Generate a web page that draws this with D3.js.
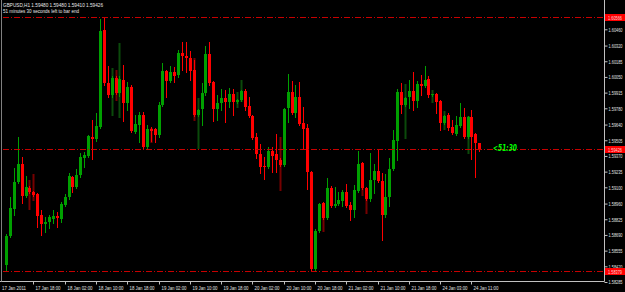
<!DOCTYPE html>
<html>
<head>
<meta charset="utf-8">
<script src="https://cdn.jsdelivr.net/npm/d3@7"></script>
<style>
  body { margin: 0; background: #000; }
  svg { display: block; }
</style>
</head>
<body>
<div id="chart"></div>
<script>
// GBPUSD H1 bars (oldest first)
const open = [
  1.58430, 1.58680, 1.58913, 1.59145, 1.59300, 1.59024, 1.59093, 1.59059, 1.59042, 1.58861,
  1.58783, 1.58801, 1.58826, 1.58852, 1.58826, 1.58947, 1.59016, 1.59188, 1.59102, 1.59205,
  1.59352, 1.59369, 1.59532, 1.59515, 1.59619, 1.60454, 1.59997, 1.59894, 1.60040, 1.59911,
  1.60023, 1.59825, 1.59963, 1.59575, 1.59636, 1.59722, 1.59446, 1.59601, 1.59601, 1.59550,
  1.59808, 1.60101, 1.60015, 1.60092, 1.60066, 1.60256, 1.60230, 1.60213, 1.60109, 1.59722,
  1.59774, 1.59911, 1.60247, 1.60006, 1.59774, 1.59825, 1.59868, 1.59834, 1.59903, 1.59834,
  1.59851, 1.59928, 1.59799, 1.59713, 1.59532, 1.59386, 1.59283, 1.59274, 1.59412, 1.59386,
  1.59334, 1.59291, 1.59782, 1.59920, 1.59739, 1.59877, 1.59653, 1.59610, 1.59231, 1.58396,
  1.58723, 1.58964, 1.58835, 1.59093, 1.58938, 1.58956, 1.58981, 1.59059, 1.58947, 1.58904,
  1.59067, 1.59309, 1.59093, 1.58999, 1.59162, 1.59240, 1.59154, 1.58861, 1.59016, 1.59257,
  1.59498, 1.59920, 1.59808, 1.59877, 1.59928, 1.59842, 1.59989, 1.59972, 1.60032, 1.59894,
  1.59903, 1.59842, 1.59653, 1.59722, 1.59619, 1.59558, 1.59627, 1.59705, 1.59532, 1.59705,
  1.59558, 1.59480];
const high = [
  1.58697, 1.59016, 1.59266, 1.59532, 1.59360, 1.59197, 1.59111, 1.59067, 1.59050, 1.58904,
  1.58844, 1.58861, 1.58904, 1.58887, 1.58973, 1.59042, 1.59222, 1.59197, 1.59257, 1.59395,
  1.59403, 1.59550, 1.59679, 1.59739, 1.60548, 1.60566, 1.60144, 1.60058, 1.60058, 1.60058,
  1.60152, 1.60006, 1.59980, 1.59722, 1.59748, 1.59748, 1.59636, 1.59619, 1.59610, 1.59834,
  1.60170, 1.60109, 1.60144, 1.60135, 1.60281, 1.60350, 1.60350, 1.60273, 1.60195, 1.59774,
  1.59997, 1.60316, 1.60350, 1.60015, 1.59894, 1.59946, 1.59937, 1.59954, 1.59946, 1.59860,
  1.59937, 1.59946, 1.59877, 1.59722, 1.59567, 1.59472, 1.59360, 1.59446, 1.59446, 1.59558,
  1.59352, 1.59782, 1.60075, 1.60015, 1.59980, 1.60006, 1.59791, 1.59644, 1.59240, 1.58740,
  1.58964, 1.58973, 1.59179, 1.59111, 1.59102, 1.59059, 1.59076, 1.59128, 1.58973, 1.59119,
  1.59412, 1.59317, 1.59102, 1.59395, 1.59300, 1.59429, 1.59222, 1.59214, 1.59352, 1.59593,
  1.59946, 1.59997, 1.59877, 1.60023, 1.60092, 1.60015, 1.60066, 1.60144, 1.60058, 1.59903,
  1.59911, 1.59851, 1.59722, 1.59739, 1.59679, 1.59713, 1.59825, 1.59782, 1.59713, 1.59765,
  1.59567, 1.59480];
const low = [
  1.58379, 1.58671, 1.58861, 1.59136, 1.58964, 1.59016, 1.59050, 1.59024, 1.58758, 1.58689,
  1.58714, 1.58749, 1.58792, 1.58758, 1.58801, 1.58938, 1.58999, 1.59059, 1.59093, 1.59188,
  1.59274, 1.59360, 1.59343, 1.59498, 1.59610, 1.59980, 1.59877, 1.59877, 1.59903, 1.59885,
  1.59670, 1.59765, 1.59575, 1.59567, 1.59489, 1.59438, 1.59438, 1.59498, 1.59489, 1.59532,
  1.59799, 1.59877, 1.60006, 1.60006, 1.60049, 1.60109, 1.60092, 1.60023, 1.59713, 1.59713,
  1.59636, 1.59894, 1.59980, 1.59670, 1.59679, 1.59765, 1.59662, 1.59791, 1.59722, 1.59825,
  1.59842, 1.59765, 1.59705, 1.59515, 1.59352, 1.59222, 1.59171, 1.59266, 1.59231, 1.59231,
  1.59283, 1.59283, 1.59662, 1.59730, 1.59705, 1.59636, 1.59438, 1.59085, 1.58379, 1.58387,
  1.58714, 1.58826, 1.58826, 1.58930, 1.58930, 1.58947, 1.58938, 1.58930, 1.58818, 1.58844,
  1.59059, 1.59085, 1.58990, 1.58981, 1.59050, 1.59145, 1.58646, 1.58844, 1.58938, 1.59248,
  1.59334, 1.59739, 1.59799, 1.59782, 1.59765, 1.59791, 1.59894, 1.59963, 1.59877, 1.59885,
  1.59739, 1.59593, 1.59644, 1.59593, 1.59558, 1.59550, 1.59619, 1.59524, 1.59524, 1.59343,
  1.59188, 1.59410];
const close = [
  1.58680, 1.58921, 1.59145, 1.59300, 1.59024, 1.59102, 1.59059, 1.59033, 1.58852, 1.58783,
  1.58801, 1.58844, 1.58852, 1.58835, 1.58956, 1.59016, 1.59197, 1.59102, 1.59205, 1.59360,
  1.59377, 1.59541, 1.59515, 1.59627, 1.60445, 1.59997, 1.59894, 1.60040, 1.59911, 1.60032,
  1.59825, 1.59963, 1.59584, 1.59644, 1.59722, 1.59446, 1.59601, 1.59584, 1.59550, 1.59808,
  1.60101, 1.60015, 1.60092, 1.60058, 1.60256, 1.60230, 1.60213, 1.60101, 1.59722, 1.59765,
  1.59911, 1.60247, 1.59997, 1.59774, 1.59825, 1.59868, 1.59834, 1.59903, 1.59834, 1.59851,
  1.59928, 1.59791, 1.59713, 1.59524, 1.59386, 1.59274, 1.59274, 1.59412, 1.59369, 1.59334,
  1.59291, 1.59774, 1.59920, 1.59739, 1.59877, 1.59644, 1.59601, 1.59231, 1.58396, 1.58723,
  1.58956, 1.58835, 1.59093, 1.58938, 1.58956, 1.58990, 1.59059, 1.58938, 1.58904, 1.59076,
  1.59300, 1.59093, 1.58999, 1.59162, 1.59240, 1.59154, 1.58861, 1.59016, 1.59257, 1.59507,
  1.59920, 1.59808, 1.59868, 1.59928, 1.59842, 1.59989, 1.59972, 1.60023, 1.59894, 1.59903,
  1.59834, 1.59653, 1.59713, 1.59610, 1.59567, 1.59636, 1.59705, 1.59532, 1.59705, 1.59532,
  1.59481, 1.59426];

// the dim overlay candles (bar index, high, low, up?)
const darkIndex = [6, 7, 27, 28, 29, 37, 48, 49, 59, 60, 70, 81, 91, 92, 102, 109, 112, 118];
const darkHigh  = [1.59162, 1.59214, 1.60127, 1.60109, 1.60342, 1.59610, 1.60213, 1.59868, 1.59920,
                   1.60023, 1.59532, 1.58964, 1.59309, 1.59093, 1.59989, 1.59937, 1.59756, 1.59713];
const darkLow   = [1.58913, 1.58990, 1.59722, 1.59851, 1.59705, 1.59489, 1.59679, 1.59438, 1.59791,
                   1.59842, 1.59076, 1.58723, 1.59033, 1.58878, 1.59524, 1.59834, 1.59601, 1.59395];
const darkUp    = [false, false, true, false, true, false, false, true, true,
                   true, false, false, false, false, true, true, true, true];

// time axis labels and the bar they sit on
const tickIndex  = [0, 7, 15, 23, 31, 39, 47, 55, 63, 71, 79, 87, 95, 103, 111, 119];
const tickLabels = ["17 Jan 2011", "17 Jan 18:00", "18 Jan 02:00", "18 Jan 10:00", "18 Jan 18:00",
                    "19 Jan 02:00", "19 Jan 10:00", "19 Jan 18:00", "20 Jan 02:00", "20 Jan 10:00",
                    "20 Jan 18:00", "21 Jan 02:00", "21 Jan 10:00", "21 Jan 18:00", "24 Jan 03:00",
                    "24 Jan 11:00"];

// price axis labels
const priceTicks = [1.60460, 1.60320, 1.60185, 1.60050, 1.59915, 1.59780, 1.59640, 1.59505, 1.59370,
                    1.59235, 1.59100, 1.58960, 1.58825, 1.58690, 1.58555, 1.58420, 1.58285];

const symbol = "GBPUSD,H1";
const timeLeft = "51:30";

// set the dimensions
const width = 625, height = 292;
const plotRight = 604.5, plotBottom = 281.5;
const font = "Liberation Sans, Arial, sans-serif";

const svg = d3.select("#chart")
  .append("svg")
    .attr("width", width)
    .attr("height", height)
    .style("background", "#000");

const x = d3.scaleLinear()
  .domain([0, open.length - 1])
  .range([6, 479.3]);

const y = d3.scaleLinear()
  .domain([1.58285, 1.60460])
  .range([282, 29.3]);

const bars = open.map((o, i) => ({i: i, o: o, h: high[i], l: low[i], c: close[i]}));
const darks = darkIndex.map((d, k) => ({i: d, h: darkHigh[k], l: darkLow[k], up: darkUp[k]}));

const cx = i => Math.round(x(i));
const py = p => Math.round(y(p));

// dim candles go under the bright ones
svg.selectAll(".dark")
  .data(darks)
  .join("rect")
    .attr("class", "dark")
    .attr("x", d => cx(d.i) - 0.5)
    .attr("width", 2)
    .attr("y", d => py(d.h))
    .attr("height", d => py(d.l) - py(d.h) + 1)
    .attr("fill", d => d.up ? "#0b4a0b" : "#760000");

// wicks
svg.selectAll(".wick")
  .data(bars)
  .join("rect")
    .attr("class", "wick")
    .attr("x", d => cx(d.i))
    .attr("width", 1)
    .attr("y", d => py(d.h))
    .attr("height", d => py(d.l) - py(d.h) + 1)
    .attr("fill", d => d.c >= d.o ? "#00a000" : "#ff0000");

// bodies
svg.selectAll(".body")
  .data(bars)
  .join("rect")
    .attr("class", "body")
    .attr("x", d => cx(d.i) - 1)
    .attr("width", 3)
    .attr("y", d => py(Math.max(d.o, d.c)))
    .attr("height", d => Math.max(1, py(Math.min(d.o, d.c)) - py(Math.max(d.o, d.c))))
    .attr("fill", d => d.c >= d.o ? "#00a000" : "#ff0000");

// high / low / bid lines
const last = bars[bars.length - 1];
const levels = [d3.max(high), d3.min(low), last.c];

svg.selectAll(".level")
  .data(levels)
  .join("line")
    .attr("class", "level")
    .attr("x1", 3)
    .attr("x2", plotRight)
    .attr("y1", d => py(d) + 0.5)
    .attr("y2", d => py(d) + 0.5)
    .attr("stroke", "#c80000")
    .attr("stroke-width", 1)
    .attr("stroke-dasharray", "6,2,1,2");

// frame
svg.append("line")
  .attr("x1", plotRight).attr("x2", plotRight)
  .attr("y1", 0).attr("y2", plotBottom)
  .attr("stroke", "#c0c0c0");
svg.append("line")
  .attr("x1", 0).attr("x2", plotRight)
  .attr("y1", plotBottom).attr("y2", plotBottom)
  .attr("stroke", "#c0c0c0");
svg.append("line")
  .attr("x1", 1.5).attr("x2", 1.5)
  .attr("y1", 0).attr("y2", plotBottom)
  .attr("stroke", "#808080");

// price axis
const yAxis = svg.append("g")
  .attr("transform", `translate(${plotRight},0)`)
  .call(d3.axisRight(y).tickValues(priceTicks).tickSize(3).tickPadding(1)
    .tickFormat(d3.format(".5f")));
yAxis.select(".domain").remove();
yAxis.selectAll("line").attr("stroke", "#c0c0c0");
yAxis.selectAll("text")
  .attr("fill", "#e0e0e0")
  .attr("textLength", 14)
  .attr("lengthAdjust", "spacingAndGlyphs")
  .style("font-family", font)
  .style("font-size", "6px");

// red price boxes
const boxes = svg.selectAll(".pricebox")
  .data(levels)
  .join("g")
    .attr("class", "pricebox")
    .attr("transform", d => `translate(${plotRight + 0.5},${py(d) - 3})`);
boxes.append("rect")
  .attr("width", 20)
  .attr("height", 7)
  .attr("fill", "#ff0000");
boxes.append("text")
  .attr("x", 3)
  .attr("y", 5.5)
  .text(d => d.toFixed(5))
  .attr("fill", "#ffd0d0")
  .attr("textLength", 14)
  .attr("lengthAdjust", "spacingAndGlyphs")
  .style("font-family", font)
  .style("font-size", "6px");

// time axis
const xt = svg.selectAll(".xtick")
  .data(tickIndex)
  .join("g")
    .attr("class", "xtick")
    .attr("transform", (d, i) => `translate(${i === 0 ? 0 : cx(d) + 0.5},${plotBottom})`);
xt.filter((d, i) => i > 0).append("line")
  .attr("y1", 0).attr("y2", 3)
  .attr("stroke", "#c0c0c0");
xt.append("text")
  .attr("x", 2)
  .attr("y", 8.5)
  .text((d, i) => tickLabels[i])
  .attr("fill", "#e0e0e0")
  .attr("textLength", (d, i) => i === 0 ? 24 : 25)
  .attr("lengthAdjust", "spacingAndGlyphs")
  .style("font-family", font)
  .style("font-size", "6px");

// header
svg.append("text")
  .attr("x", 3).attr("y", 7)
  .text(`${symbol}  ${[last.o, last.h, last.l, last.c].map(v => v.toFixed(5)).join(" ")}`)
  .attr("fill", "#e8e8e8")
  .attr("textLength", 100)
  .attr("lengthAdjust", "spacingAndGlyphs")
  .style("font-family", font)
  .style("font-size", "6px");
svg.append("text")
  .attr("x", 3).attr("y", 13)
  .text("51 minutes 30 seconds left to bar end")
  .attr("fill", "#e8e8e8")
  .attr("textLength", 76)
  .attr("lengthAdjust", "spacingAndGlyphs")
  .style("font-family", font)
  .style("font-size", "6px");

// countdown next to the last bar
svg.append("text")
  .attr("x", cx(last.i) + 14)
  .attr("y", py(last.c) + 2)
  .text("<" + timeLeft)
  .attr("fill", "#00ff00")
  .attr("textLength", 24)
  .attr("lengthAdjust", "spacingAndGlyphs")
  .style("font-family", "DejaVu Sans, sans-serif")
  .style("font-style", "italic")
  .style("font-weight", "bold")
  .style("font-size", "8px");
</script>
</body>
</html>
